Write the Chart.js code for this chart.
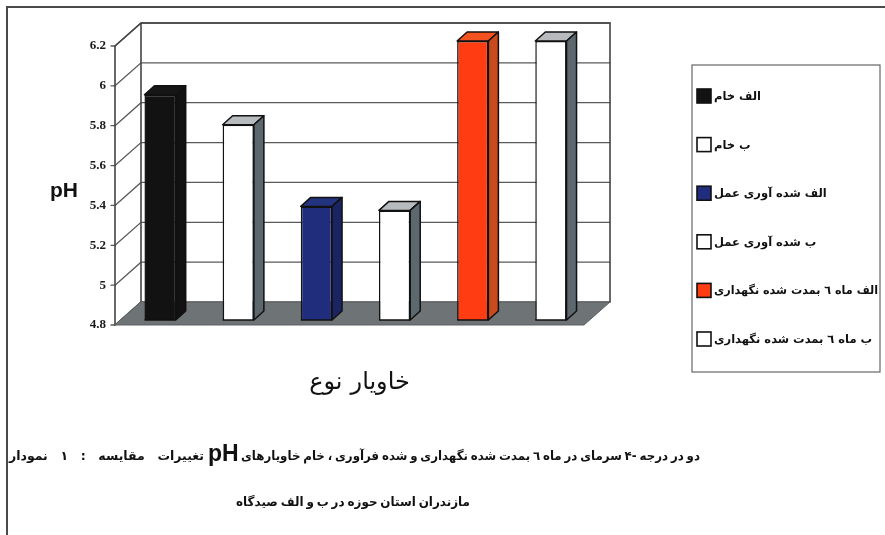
<!DOCTYPE html>
<html>
<head>
<meta charset="utf-8">
<script src="https://cdn.jsdelivr.net/npm/chart.js@4.4.1/dist/chart.umd.min.js"></script>
<style>
  html, body { margin: 0; padding: 0; background: #ffffff; }
</style>
</head>
<body>
<canvas id="phChart" width="885" height="535"></canvas>
<script>
// data
const categories = ['خام الف', 'خام ب', 'عمل آوری شده الف', 'عمل آوری شده ب', 'نگهداری شده بمدت ٦ ماه الف', 'نگهداری شده بمدت ٦ ماه ب'];
const phValues = [5.93, 5.78, 5.37, 5.35, 6.2, 6.2];
const yTicks = [4.8, 5, 5.2, 5.4, 5.6, 5.8, 6, 6.2];
const yAxisTitle = 'pH';
const xAxisTitle = 'نوع خاویار';
const captionLine1 = 'نمودار ۱ : مقایسه تغییرات pH خاویارهای خام ، فرآوری شده و نگهداری شده بمدت ٦ ماه در سرمای ۴- درجه در دو';
const captionLine2 = 'صیدگاه الف و ب در حوزه استان مازندران';

const frontColors = ['#121212', '#ffffff', '#1f2d7c', '#ffffff', '#ff3c12', '#ffffff'];
const sideColors  = ['#121212', '#5d686e', '#1a2462', '#5d686e', '#c94a1c', '#5d686e'];
const topColors   = ['#161616', '#b7bbbe', '#24337f', '#b7bbbe', '#f4521f', '#b7bbbe'];

const arabicFont = '"DejaVu Sans", sans-serif';
const DEPTH = { dx: 10, dy: 9 };      // bar depth
const BACK = { dx: 20, dy: -18 };     // back wall offset from bar plane
const FRONT = { dx: -6, dy: 5 };      // front axis offset from bar plane

// the original renders Persian words in left-to-right order, so draw word by word
function drawWords(ctx, words, x, y, gap, maxW) {
  const widths = words.map(w => ctx.measureText(w).width);
  const total = widths.reduce((a, b) => a + b, 0) + gap * (words.length - 1);
  const sx = maxW && total > maxW ? maxW / total : 1;
  ctx.save();
  ctx.translate(x, y);
  ctx.scale(sx, 1);
  let cx = 0;
  words.forEach((w, i) => { ctx.fillText(w, cx, 0); cx += widths[i] + gap; });
  ctx.restore();
  return total * sx;
}

// spread words evenly between x0 and x1
function justifyWords(ctx, words, x0, x1, y) {
  const widths = words.map(w => ctx.measureText(w).width);
  const sum = widths.reduce((a, b) => a + b, 0);
  const gap = words.length > 1 ? (x1 - x0 - sum) / (words.length - 1) : 0;
  if (gap < 3) { drawWords(ctx, words, x0, y, 3, x1 - x0); return; }
  let cx = x0;
  words.forEach((w, i) => { ctx.fillText(w, cx, y); cx += widths[i] + gap; });
}

function poly(ctx, pts, fill, stroke) {
  ctx.beginPath();
  ctx.moveTo(pts[0][0], pts[0][1]);
  for (let i = 1; i < pts.length; i++) ctx.lineTo(pts[i][0], pts[i][1]);
  ctx.closePath();
  ctx.fillStyle = fill;
  ctx.fill();
  if (stroke) { ctx.strokeStyle = stroke; ctx.stroke(); }
}

const wallsPlugin = {
  id: 'walls',
  beforeDatasetsDraw(chart) {
    const { ctx, chartArea: ca } = chart;
    const yS = chart.scales.y;
    const yTop = yS.getPixelForValue(yTicks[yTicks.length - 1]);
    const yBot = yS.getPixelForValue(yTicks[0]);
    const bl = ca.left + BACK.dx, br = ca.right + BACK.dx;
    const fl = ca.left + FRONT.dx;
    ctx.save();
    ctx.lineCap = 'round';
    // grid lines on the back wall and the side wall
    ctx.strokeStyle = '#5a5a5a';
    ctx.lineWidth = 1.3;
    yTicks.forEach(v => {
      const py = yS.getPixelForValue(v);
      ctx.beginPath();
      ctx.moveTo(fl, py + FRONT.dy);
      ctx.lineTo(bl, py + BACK.dy);
      ctx.lineTo(br, py + BACK.dy);
      ctx.stroke();
      ctx.beginPath();
      ctx.moveTo(fl - 4, py + FRONT.dy);
      ctx.lineTo(fl, py + FRONT.dy);
      ctx.stroke();
    });
    // wall edges
    ctx.strokeStyle = '#444';
    ctx.lineWidth = 1.6;
    ctx.beginPath();
    ctx.moveTo(fl, yBot + FRONT.dy);
    ctx.lineTo(fl, yTop + FRONT.dy);
    ctx.lineTo(bl, yTop + BACK.dy);
    ctx.lineTo(br, yTop + BACK.dy);
    ctx.lineTo(br, yBot + BACK.dy);
    ctx.moveTo(bl, yTop + BACK.dy);
    ctx.lineTo(bl, yBot + BACK.dy);
    ctx.stroke();
    // floor
    ctx.lineWidth = 1;
    poly(ctx, [
      [fl, yBot + FRONT.dy], [ca.right + FRONT.dx, yBot + FRONT.dy],
      [br, yBot + BACK.dy], [bl, yBot + BACK.dy]
    ], '#6e7376', '#5c6164');
    ctx.restore();
  },
  afterDatasetsDraw(chart) {
    const { ctx } = chart;
    const meta = chart.getDatasetMeta(0);
    const floorY = chart.scales.y.getPixelForValue(yTicks[0]);
    ctx.save();
    ctx.lineWidth = 1.5;
    ctx.lineJoin = 'round';
    meta.data.forEach((bar, i) => {
      const l = bar.x - bar.width / 2, r = bar.x + bar.width / 2;
      const t = bar.y, b = Math.min(bar.base, floorY);
      poly(ctx, [[l, t], [l + DEPTH.dx, t - DEPTH.dy], [r + DEPTH.dx, t - DEPTH.dy], [r, t]], topColors[i], '#111');
      poly(ctx, [[r, t], [r + DEPTH.dx, t - DEPTH.dy], [r + DEPTH.dx, b - DEPTH.dy], [r, b]], sideColors[i], '#111');
      ctx.strokeStyle = '#111';
      ctx.beginPath();
      ctx.moveTo(l, b);
      ctx.lineTo(r, b);
      ctx.stroke();
    });
    ctx.restore();
  },
  afterDraw(chart) {
    const { ctx, chartArea: ca } = chart;
    ctx.save();
    // outer frame (top and left only)
    ctx.strokeStyle = '#4a4a4a';
    ctx.lineWidth = 2;
    ctx.beginPath();
    ctx.moveTo(7, 535);
    ctx.lineTo(7, 7);
    ctx.lineTo(885, 7);
    ctx.stroke();

    ctx.fillStyle = '#111';
    ctx.textBaseline = 'middle';
    ctx.textAlign = 'center';
    // y title
    ctx.font = 'bold 21px "Liberation Sans", Arial, sans-serif';
    ctx.fillText(yAxisTitle, 64, 191);

    // x title
    ctx.textAlign = 'left';
    ctx.font = '24px ' + arabicFont;
    const xWords = xAxisTitle.split(' ');
    const xw = xWords.reduce((a, w) => a + ctx.measureText(w).width, 0) + 8;
    drawWords(ctx, xWords, (ca.left + ca.right) / 2 + 4 - xw / 2, 383, 8);

    // legend
    const lx = 692, ly = 65, lw = 188, lh = 307;
    ctx.strokeStyle = '#666';
    ctx.lineWidth = 1.2;
    ctx.strokeRect(lx, ly, lw, lh);
    ctx.font = 'bold 11.5px ' + arabicFont;
    categories.forEach((c, i) => {
      const cy = 96 + i * 48.6;
      ctx.fillStyle = frontColors[i];
      ctx.fillRect(697, cy - 7, 14, 14);
      ctx.strokeStyle = '#111';
      ctx.lineWidth = 1.6;
      ctx.strokeRect(697, cy - 7, 14, 14);
      ctx.fillStyle = '#111';
      drawWords(ctx, c.split(' '), 714, cy + 1, 4, 164);
    });

    // caption, first line: words left of "pH", "pH" itself, words right of it
    const words1 = captionLine1.split(' ');
    const k = words1.indexOf('pH');
    ctx.font = 'bold 12.5px ' + arabicFont;
    justifyWords(ctx, words1.slice(0, k), 9, 204, 457);
    justifyWords(ctx, words1.slice(k + 1), 241, 700, 457);
    ctx.font = 'bold 23px "Liberation Sans", Arial, sans-serif';
    ctx.fillText(words1[k], 208, 455);

    ctx.font = 'bold 12.5px ' + arabicFont;
    justifyWords(ctx, captionLine2.split(' '), 236, 470, 503);
    ctx.restore();
  }
};

const ctx = document.getElementById('phChart').getContext('2d');
const phChart = new Chart(ctx, {
  type: 'bar',
  data: {
    labels: categories,
    datasets: [{
      data: phValues,
      backgroundColor: frontColors,
      borderColor: '#111111',
      borderWidth: 1.5,
      borderSkipped: false,
      barPercentage: 0.4,
      categoryPercentage: 1
    }]
  },
  options: {
    responsive: false,
    animation: false,
    layout: { padding: { top: 41, bottom: 215, left: 0, right: 295 } },
    plugins: {
      legend: { display: false },
      tooltip: { enabled: false }
    },
    scales: {
      x: { display: false },
      y: {
        min: yTicks[0],
        max: yTicks[yTicks.length - 1],
        afterFit: s => { s.width = 121; },
        afterBuildTicks: s => { s.ticks = yTicks.map(v => ({ value: v })); },
        grid: { display: false, drawTicks: false },
        border: { display: false },
        ticks: {
          padding: 15,
          labelOffset: 5,
          color: '#1a1a1a',
          font: { family: '"Liberation Serif", serif', weight: 'bold', size: 13 },
          callback: v => String(v)
        }
      }
    }
  },
  plugins: [wallsPlugin]
});
</script>
</body>
</html>
